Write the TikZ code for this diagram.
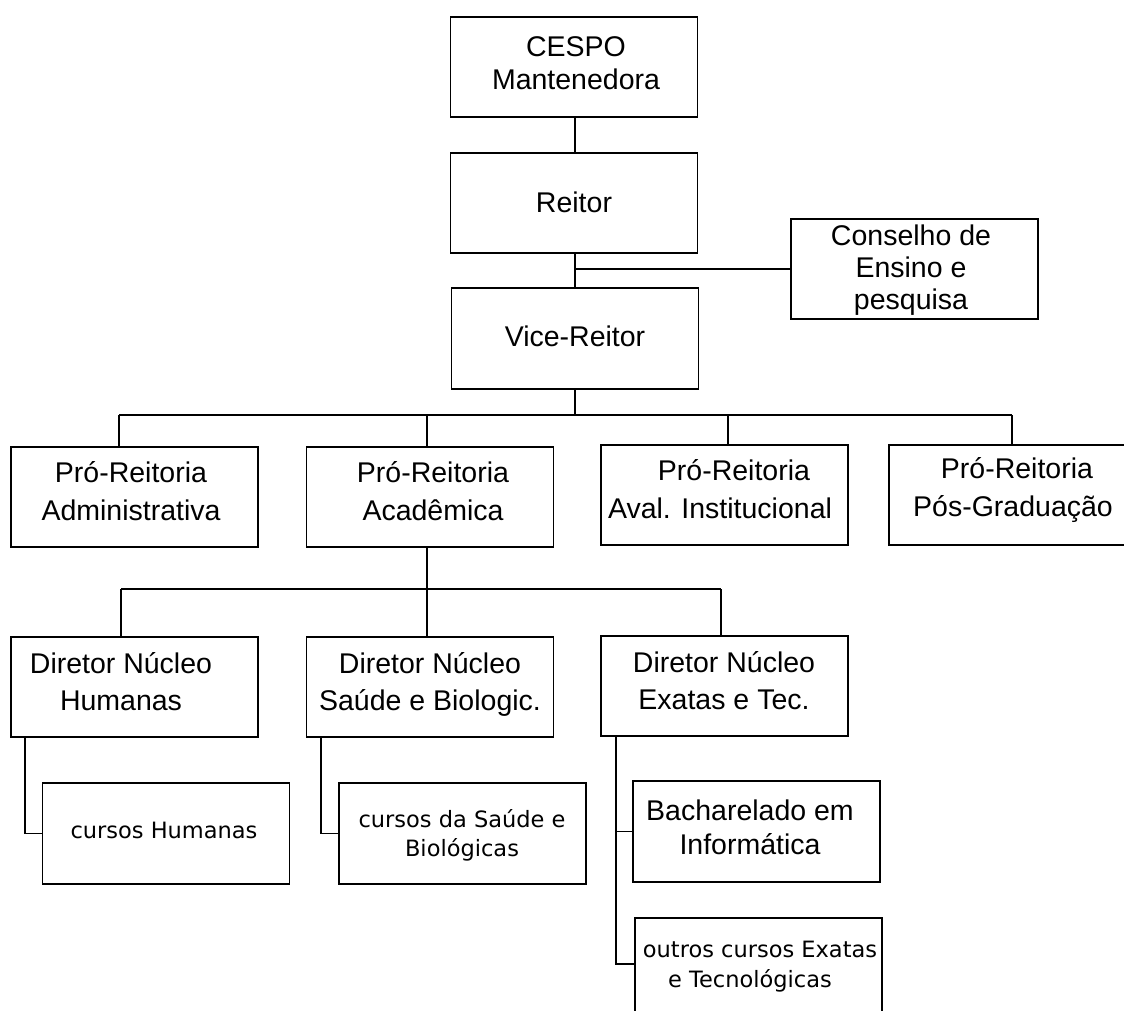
\documentclass[tikz,border=0pt]{standalone}
\usepackage{fontspec}
\setmainfont{Liberation Sans}
\newfontfamily\smallfam{DejaVu Sans}
\newcommand{\mlines}[1]{\begin{tabular}[t]{@{}c@{}}#1\end{tabular}}
\begin{document}
\begin{tikzpicture}[x=1pt,y=-1pt,
  box/.style={draw, line width=1.6pt, rectangle, inner sep=0pt, minimum width=247pt, minimum height=100pt},
  conn/.style={line width=1.6pt},
  lbl/.style={anchor=base, inner sep=0pt, font=\fontsize{28.5}{37}\selectfont},
  slbl/.style={anchor=base, inner sep=0pt, font=\smallfam\fontsize{22.5}{29}\selectfont}]
\path[use as bounding box, clip] (0,0) rectangle (1124,1011);
\fill[white] (0,0) rectangle (1124,1011);

% boxes
\node[box] (cespo) at (574,67) {};
\node[box] (reitor) at (574,203) {};
\node[box] (cons) at (914.5,269) {};
\node[box, minimum height=101pt] (vice) at (575,338.5) {};
\node[box] (adm) at (134.5,497) {};
\node[box] (acad) at (430,497) {};
\node[box] (aval) at (724.5,495) {};
\node[box] (pos) at (1012.5,495) {};
\node[box] (hum) at (134.5,687) {};
\node[box] (sau) at (430,687) {};
\node[box] (exa) at (724.5,686) {};
\node[box, minimum height=101pt] (chum) at (166,833.5) {};
\node[box, minimum height=101pt] (csau) at (462.5,833.5) {};
\node[box, minimum height=101pt] (bach) at (756.5,831.5) {};
\node[box] (outros) at (758.5,968) {};

% texts
\node[lbl, font=\fontsize{28.5}{33}\selectfont] (cespo-t) at (576,57) {\mlines{CESPO\\Mantenedora}};
\node[lbl] (reitor-t) at (574,212) {Reitor};
\node[lbl, font=\fontsize{28.5}{32}\selectfont] (cons-t) at (911,245) {\mlines{Conselho de\\Ensino e\\pesquisa}};
\node[lbl] (vice-t) at (575,346) {Vice-Reitor};
\node[lbl, font=\fontsize{28.5}{38}\selectfont] (adm-t) at (131,482) {\mlines{Pró-Reitoria\\Administrativa}};
\node[lbl, font=\fontsize{28.5}{38}\selectfont] (acad-t) at (433,482) {\mlines{Pró-Reitoria\\Acadêmica}};
\node[lbl, font=\fontsize{28.5}{38}\selectfont] (aval-t) at (720,480) {\mlines{\hspace*{28pt}Pró-Reitoria\\Aval. Institucional}};
\node[lbl, font=\fontsize{28.5}{38}\selectfont] (pos-t) at (1013,478) {\mlines{\hspace*{8pt}Pró-Reitoria\\Pós-Graduação}};
\node[lbl] (hum-t) at (121,673) {\mlines{Diretor Núcleo\\Humanas}};
\node[lbl] (sau-t) at (430,673) {\mlines{Diretor Núcleo\\Saúde e Biologic.}};
\node[lbl] (exa-t) at (724,672) {\mlines{Diretor Núcleo\\Exatas e Tec.}};
\node[slbl] (chum-t) at (164,838) {cursos Humanas};
\node[slbl] (csau-t) at (462,827) {\mlines{cursos da Saúde e\\Biológicas}};
\node[lbl, font=\fontsize{28.5}{34}\selectfont] (bach-t) at (750,820) {\mlines{Bacharelado em\\Informática}};
\node[slbl, font=\smallfam\fontsize{22.5}{30}\selectfont] (outros-t) at (760,957) {\mlines{outros cursos Exatas\\e Tecnológicas\hspace*{20pt}}};

% connectors
\draw[conn] (vice.north |- cespo.south) -- (vice.north |- reitor.north);
\draw[conn] (vice.north |- reitor.south) -- (vice.north);
\draw[conn] (vice.north |- cons.west) -- (cons.west);

\coordinate (bus1) at (119,415);
\coordinate (bus1e) at (1012,415);
\draw[conn] (bus1) -- (bus1e);
\draw[conn] (vice.south) -- (vice.south |- bus1);
\draw[conn] (bus1) -- (bus1 |- adm.north);
\draw[conn] ([xshift=-3pt]acad.north |- bus1) -- ([xshift=-3pt]acad.north);
\draw[conn] ([xshift=3.5pt]aval.north |- bus1) -- ([xshift=3.5pt]aval.north);
\draw[conn] (bus1e) -- (bus1e |- pos.north);

\coordinate (bus2) at (121,589);
\coordinate (bus2e) at (721,589);
\draw[conn] (bus2) -- (bus2e);
\draw[conn] ([xshift=-3pt]acad.south) -- ([xshift=-3pt]sau.north);
\draw[conn] (bus2) -- (bus2 |- hum.north);
\draw[conn] (bus2e) -- (bus2e |- exa.north);

\draw[conn] ([xshift=-109.5pt]hum.south) |- (chum.west);
\draw[conn] ([xshift=-109pt]sau.south) |- (csau.west);
\draw[conn] ([xshift=-108.5pt]exa.south) |- ([yshift=4pt]outros.west);
\draw[conn] ([xshift=-108.5pt]exa.south |- bach.west) -- (bach.west);
\end{tikzpicture}
\end{document}
